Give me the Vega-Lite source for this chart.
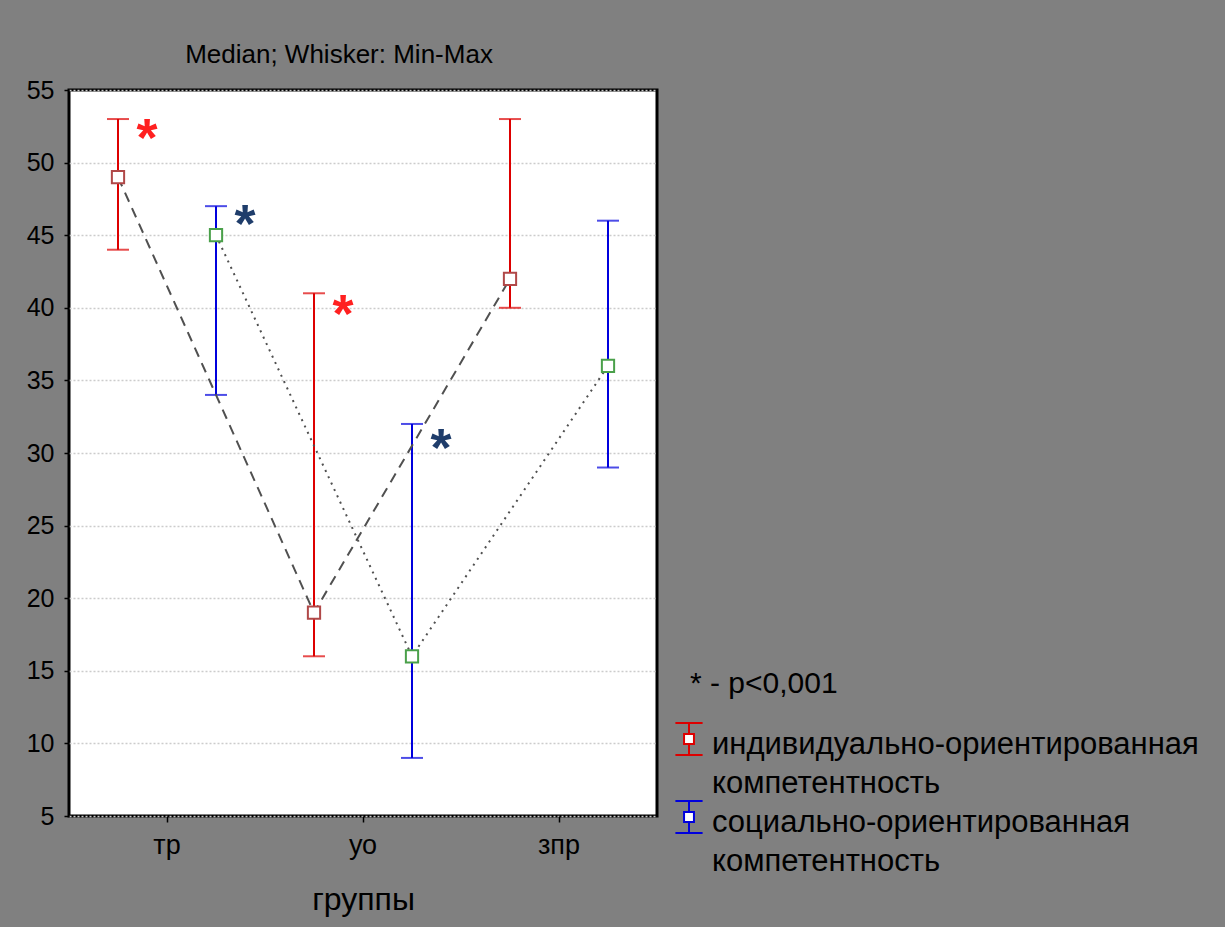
{
  "$schema": "https://vega.github.io/schema/vega-lite/v6.json",
  "width": 588,
  "height": 726,
  "autosize": "none",
  "padding": {"left": 69, "top": 90, "right": 568, "bottom": 111},
  "background": "#808080",
  "title": {"text": "Median; Whisker: Min-Max", "fontSize": 26, "fontWeight": "normal", "color": "black", "anchor": "middle", "dx": -24, "offset": 10, "font": "Liberation Sans"},
  "data": {"values": [
    {"group": "тр", "series": "индивидуально-ориентированная компетентность", "kind": "инд", "median": 49, "min": 44, "max": 53, "star": 52.3},
    {"group": "тр", "series": "социально-ориентированная компетентность", "kind": "соц", "median": 45, "min": 34, "max": 47, "star": 46.4},
    {"group": "уо", "series": "индивидуально-ориентированная компетентность", "kind": "инд", "median": 19, "min": 16, "max": 41, "star": 40.2},
    {"group": "уо", "series": "социально-ориентированная компетентность", "kind": "соц", "median": 16, "min": 9, "max": 32, "star": 30.95},
    {"group": "зпр", "series": "индивидуально-ориентированная компетентность", "kind": "инд", "median": 42, "min": 40, "max": 53, "star": null},
    {"group": "зпр", "series": "социально-ориентированная компетентность", "kind": "соц", "median": 36, "min": 29, "max": 46, "star": null}
  ]},
  "encoding": {
    "x": {"field": "group", "type": "nominal", "sort": ["тр", "уо", "зпр"], "title": "группы",
          "scale": {"paddingInner": 0, "paddingOuter": 0}},
    "xOffset": {"field": "series", "type": "nominal",
                "sort": ["индивидуально-ориентированная компетентность", "социально-ориентированная компетентность"],
                "scale": {"paddingInner": 0, "paddingOuter": 0}}
  },
  "resolve": {"scale": {"color": "independent", "fill": "independent"}},
  "layer": [
    {
      "mark": {"type": "rule", "strokeWidth": 2},
      "encoding": {
        "y": {"field": "min", "type": "quantitative", "title": null, "scale": {"domain": [5, 55], "nice": false, "zero": false}},
        "y2": {"field": "max"},
        "stroke": {"field": "series", "type": "nominal",
                  "scale": {"domain": ["индивидуально-ориентированная компетентность", "социально-ориентированная компетентность"], "range": ["#dd0000", "#0000dd"]},
                  "legend": {
                    "title": "* - p<0,001",
                    "titleFontSize": 30, "titleFontWeight": "normal", "titleColor": "black", "titleFont": "Liberation Sans",
                    "titlePadding": 38,
                    "orient": "none", "legendX": 621, "legendY": 579,
                    "labelExpr": "split(datum.label, ' ')",
                    "labelFontSize": 31, "labelColor": "black", "labelFont": "Liberation Sans",
                    "labelBaseline": "alphabetic", "labelOffset": 6, "labelLimit": 0,
                    "symbolType": "M-0.85,-1.94H0.85M0,-1.94V-1.25M-0.31,-1.25H0.31V-0.63H-0.31ZM0,-0.63V0.06M-0.85,0.06H0.85",
                    "symbolSize": 1024, "symbolStrokeWidth": 2, "symbolFillColor": "white", "symbolOffset": -18,
                    "symbolDash": [],
                    "rowPadding": -3, "padding": 0,
                    "encode": {
                      "labels": {"update": {"lineHeight": {"value": 39}}},
                      "symbols": {"update": {"fill": {"value": "white"}, "fillOpacity": {"value": 1}}}
                    }
                  }}
      }
    },
    {
      "mark": {"type": "tick", "size": 22, "thickness": 2, "orient": "horizontal"},
      "encoding": {
        "y": {"field": "min", "type": "quantitative", "title": null},
        "color": {"field": "series", "type": "nominal", "legend": null,
                  "scale": {"domain": ["индивидуально-ориентированная компетентность", "социально-ориентированная компетентность"], "range": ["#dd0000", "#0000dd"]}}
      }
    },
    {
      "mark": {"type": "tick", "size": 22, "thickness": 2, "orient": "horizontal"},
      "encoding": {
        "y": {"field": "max", "type": "quantitative", "title": null},
        "color": {"field": "series", "type": "nominal", "legend": null,
                  "scale": {"domain": ["индивидуально-ориентированная компетентность", "социально-ориентированная компетентность"], "range": ["#dd0000", "#0000dd"]}}
      }
    },
    {
      "mark": {"type": "line", "color": "#505050", "strokeWidth": 2},
      "encoding": {
        "y": {"field": "median", "type": "quantitative", "title": null},
        "detail": {"field": "kind", "type": "nominal"},
        "strokeDash": {"field": "kind", "type": "nominal",
                       "scale": {"domain": ["инд", "соц"], "range": [[10, 7], [2, 5]]},
                       "legend": null}
      }
    },
    {
      "mark": {"type": "point", "shape": "square", "filled": false, "fill": "white", "fillOpacity": 1, "size": 150, "strokeWidth": 2, "opacity": 1},
      "encoding": {
        "y": {"field": "median", "type": "quantitative", "title": null},
        "color": {"field": "kind", "type": "nominal",
                   "scale": {"domain": ["инд", "соц"], "range": ["#b04848", "#4aa04a"]},
                   "legend": null}
      }
    },
    {
      "mark": {"type": "text", "text": "*", "fontSize": 54, "fontWeight": "bold", "font": "Liberation Sans", "baseline": "middle", "align": "center", "dx": 29, "dy": 11},
      "encoding": {
        "y": {"field": "star", "type": "quantitative", "title": null},
        "fill": {"field": "kind", "type": "nominal",
                 "scale": {"domain": ["инд", "соц"], "range": ["#ff2020", "#1f3d6b"]},
                 "legend": null}
      }
    }
  ],
  "config": {
    "font": "Liberation Sans",
    "view": {"fill": "white", "stroke": "black", "strokeWidth": 3},
    "axisY": {"tickCount": 10, "grid": true, "gridColor": "#cccccc", "gridDash": [2, 2], "gridWidth": 1.5,
              "domain": false, "ticks": true, "tickSize": 5, "tickColor": "black", "tickWidth": 1.5,
              "labelFontSize": 25, "labelColor": "black", "labelPadding": 10, "labelFont": "Liberation Sans"},
    "axisX": {"labelAngle": 0, "labelFontSize": 27, "labelColor": "black", "labelPadding": 10, "labelFont": "Liberation Sans",
              "domain": false, "ticks": true, "tickSize": 6, "tickColor": "black", "tickWidth": 1.5,
              "titleFontSize": 32, "titleFontWeight": "normal", "titleColor": "black", "titlePadding": 26, "titleFont": "Liberation Sans", "grid": false}
  }
}
